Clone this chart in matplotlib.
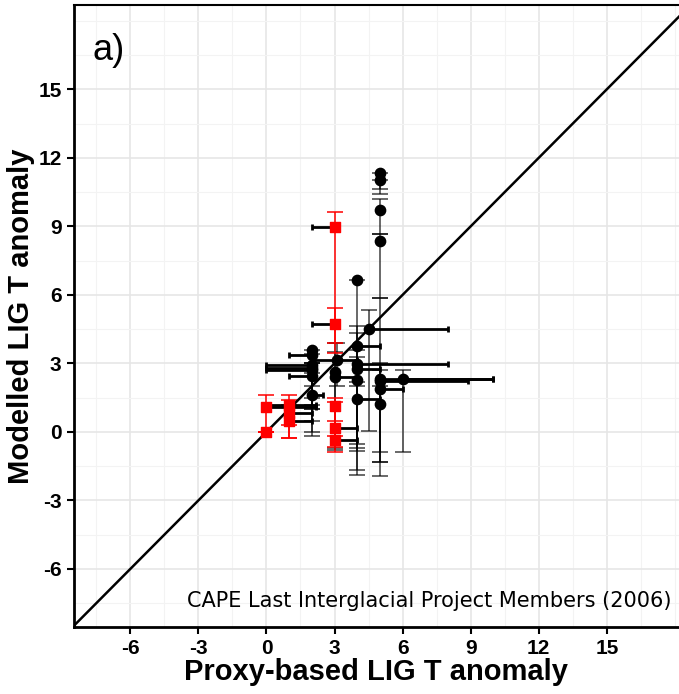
import numpy as np
import matplotlib
matplotlib.use('Agg')
from matplotlib import pyplot as plt
from matplotlib.ticker import MultipleLocator

plt.rcParams['axes.unicode_minus'] = False

# proxy (x) vs modelled (y) LIG temperature anomaly, with ranges
red_x    = [0, 0, 1, 1, 1, 3, 3, 3, 3, 3]
red_y    = [0.0, 1.10, 1.20, 0.82, 0.50, 1.14, 0.16, -0.35, 4.74, 8.96]
red_xmin = [0, 0, 0, 1, 1, 3, 3, 3, 2, 2]
red_xmax = [0, 2.2, 2.2, 2, 2, 3, 4, 4, 3, 3]
red_ymin = [0.0, 0.0, -0.26, 0.3, -0.26, -0.2, -0.64, -0.86, 3.46, 3.9]
red_ymax = [0.0, 1.62, 1.62, 1.4, 1.2, 1.48, 1.3, 0.5, 5.44, 9.63]

blk_x    = [5, 5, 5, 5, 4, 4.5, 4, 3.1, 4, 4, 4, 4, 5, 5, 5, 5, 6, 3, 3, 2, 2, 2, 2, 2, 2, 2]
blk_y    = [11.35, 11.02, 9.70, 8.36, 6.67, 4.50, 3.74, 3.13, 2.98, 2.75, 2.28, 1.43,
            2.31, 2.25, 1.87, 1.23, 2.31, 2.64, 2.40, 3.57, 3.38, 2.94, 2.82, 2.72, 2.46, 1.62]
blk_xmin = [5, 5, 5, 5, 4, 4.5, 4, 2, 4, 4, 4, 4, 5, 5, 5, 5, 6, 3, 3, 2, 1, 0, 0, 0, 1, 2]
blk_xmax = [5, 5, 5, 5, 4, 8, 5, 4, 8, 5, 4, 5, 10, 8.9, 6, 5, 10, 3, 4, 2, 2, 2, 2, 2, 2, 2.5]
blk_ymin = [10.64, 10.40, 8.68, 5.88, 2.0, 0.04, -0.54, 2.0, -0.69, -0.83, -1.67, -1.9,
            -1.93, -1.3, -0.86, -1.3, -0.86, -0.7, -0.8, 1.0, 1.5, 1.2, 1.0, 0.5, 0.0, -0.18]
blk_ymax = [11.35, 11.02, 10.20, 8.68, 6.67, 5.32, 4.65, 3.89, 4.33, 3.6, 3.3, 2.2,
            5.88, 3.0, 2.7, 2.0, 2.69, 3.9, 3.5, 3.57, 3.4, 3.0, 3.0, 3.0, 2.6, 2.0]

ticks = [-6, -3, 0, 3, 6, 9, 12, 15]


def errs(v, lo, hi):
    v, lo, hi = np.array(v), np.array(lo), np.array(hi)
    return [v - lo, hi - v]


fig = plt.figure(figsize=(6.79, 6.94), dpi=100)
ax = fig.add_axes([74 / 679, (694 - 627) / 694, (679 - 74) / 679, (627 - 5) / 694])

ax.set_xlim(-8.48, 18.18)
ax.set_ylim(-8.54, 18.69)

ax.xaxis.set_major_locator(MultipleLocator(3))
ax.yaxis.set_major_locator(MultipleLocator(3))
ax.xaxis.set_minor_locator(MultipleLocator(1.5))
ax.yaxis.set_minor_locator(MultipleLocator(1.5))
ax.set_xticks(ticks)
ax.set_yticks(ticks)
ax.grid(which='major', color='#e6e6e6', lw=1.2, zorder=0)
ax.grid(which='minor', color='#f3f3f3', lw=0.8, zorder=0)
ax.set_axisbelow(True)

# vertical ranges (modelled)
ax.errorbar(blk_x, blk_y, yerr=errs(blk_y, blk_ymin, blk_ymax), fmt='none',
            ecolor='black', elinewidth=1.1, capsize=6, capthick=1.1, alpha=0.75, zorder=2)
ax.errorbar(red_x, red_y, yerr=errs(red_y, red_ymin, red_ymax), fmt='none',
            ecolor='red', elinewidth=1.1, capsize=6, capthick=1.1, zorder=2)

# horizontal ranges (proxy)
ax.errorbar(blk_x + red_x, blk_y + red_y,
            xerr=errs(blk_x + red_x, blk_xmin + red_xmin, blk_xmax + red_xmax),
            fmt='none', ecolor='black', elinewidth=2, capsize=2.5, capthick=2, zorder=3)

ax.plot([-20, 30], [-20, 30], color='black', lw=1.8, zorder=4)

ax.scatter(blk_x, blk_y, s=55, color='black', marker='o', zorder=5)
ax.scatter(red_x, red_y, s=55, color='red', marker='s', zorder=5)

for s in ['left', 'bottom']:
    ax.spines[s].set_linewidth(2)
ax.spines['top'].set_linewidth(1.5)
ax.spines['right'].set_visible(False)

ax.tick_params(which='major', length=5, width=1.5, pad=4, color='black')
ax.tick_params(which='minor', length=0)
for lab in ax.get_xticklabels() + ax.get_yticklabels():
    lab.set_fontfamily('Liberation Sans')
    lab.set_fontweight('bold')
    lab.set_fontsize(15)

ax.set_xlabel('Proxy-based LIG T anomaly', fontfamily='Liberation Sans',
              fontweight='bold', fontsize=21, labelpad=0)
ax.set_ylabel('Modelled LIG T anomaly', fontfamily='Liberation Sans',
              fontweight='bold', fontsize=21, labelpad=2)

ax.text(0.031, 0.911, 'a)', transform=ax.transAxes, fontfamily='Liberation Sans',
        fontsize=26, va='baseline', ha='left')
ax.text(0.987, 0.032, 'CAPE Last Interglacial Project Members (2006)',
        transform=ax.transAxes, fontfamily='DejaVu Sans', fontsize=15,
        va='baseline', ha='right')

fig.savefig('out.png', dpi=100)
